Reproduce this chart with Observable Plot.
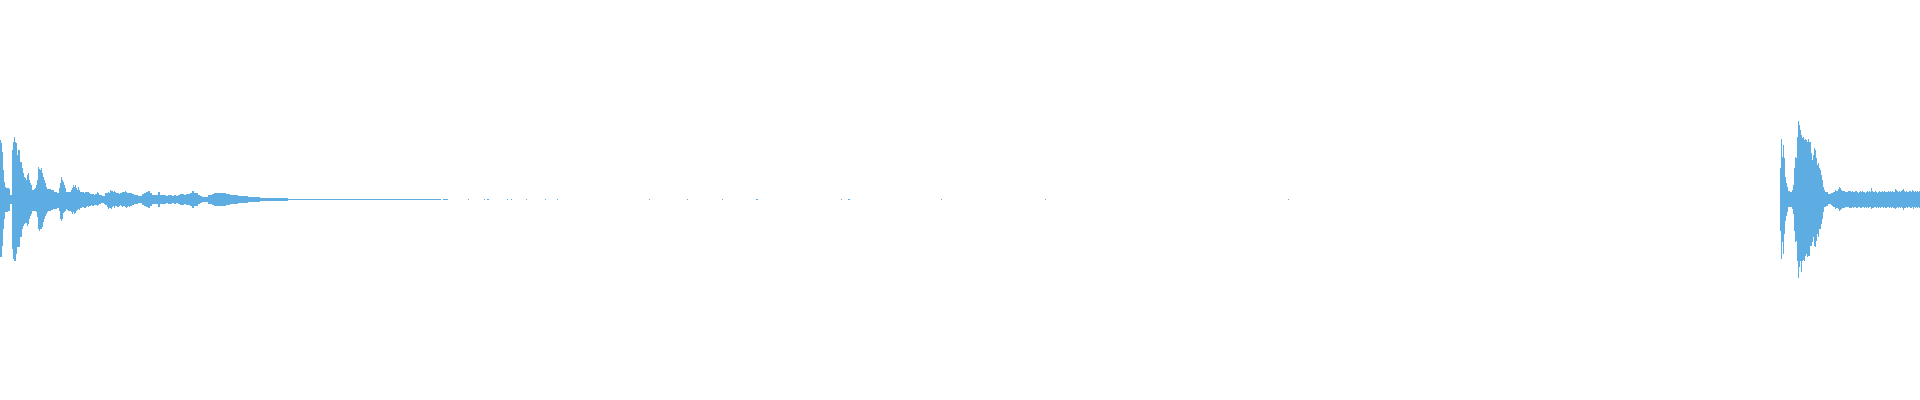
<!DOCTYPE html>
<html>
<head>
<meta charset="utf-8">
<script src="https://cdn.jsdelivr.net/npm/d3@7"></script>
<script src="https://cdn.jsdelivr.net/npm/@observablehq/plot@0.6"></script>
<style>
  html, body { margin: 0; padding: 0; background: #ffffff; }
  #chart svg { display: block; }
</style>
</head>
<body>
<div id="chart"></div>
<script>
// Waveform peaks per column (amplitude in 1/200 of full scale)
const hit1Start = 0;
const hit1Hi = [60,57,48,30,18,13,12,12,12,11, 5,5,50,58,63,58,57,45,50,50,
  38,38,32,27,23,22,20,25,27,20, 17,15,10,10,11,12,15,20,33,31,
  30,32,27,23,20,17,13,11,11,11, 11,10,10,10,8,8,8,7,7,12,
  17,23,20,18,15,12,8,8,8,8, 8,10,12,15,13,15,12,10,13,10,
  8,8,8,8,7,8,8,8,8,7, 6,6,6,6,5,6,6,8,7,5,
  5,5,4,4,4,7,7,7,8,7, 10,9,9,8,9,8,7,7,7,6,
  7,7,8,8,8,9,8,7,7,7];
const hit1Lo = [58,58,47,30,20,13,13,13,12,12, 5,5,50,60,62,62,55,48,48,48,
  38,38,30,27,25,24,24,27,25,20, 17,15,12,12,12,12,13,18,30,32,
  30,30,28,23,20,17,15,13,12,12, 12,11,11,10,10,10,10,9,9,12,
  20,22,20,14,13,12,10,11,12,12, 12,13,15,13,15,14,12,11,10,11,
  9,9,8,8,9,9,8,7,8,7, 7,6,7,7,6,6,6,7,6,5,
  5,4,4,4,5,6,6,8,10,9, 9,10,8,7,9,7,7,8,8,7,
  6,7,8,7,7,8,9,8,7,8];

// Decay tail, two columns per value, symmetric envelope
const tailStart = 130;
const tailStep = 2;
const tailPeak = [7,6,4.5,4.5,3.5,3.5,6,7,8,9, 7,4.5,4.5,5,7.5,5,5,4.5,4,5,
  5,4,4.5,4,5,5.5,5.5,5,6,6, 6.5,9,7,6.5,5,4,3,3,3,4.5,
  5,6,6.5,7,6.5,7,6.5,6.5,6,5.5, 5,5,4.5,4.5,4,4,4,3.5,3.5,3,
  3,2.5,2.5,2.5,2.5,2,2,2,2,2, 2,2,2,2,1.5,2,1.5,1.5,1.5,0.8,
  0.8,0.8,0.8,0.8,0.8,0.8,0.8,0.8,0.8,0.8, 0.8,0.8,0.8,0.8,0.8];

// Near-silent floor and isolated blips: [start column, width in columns]
const floorSegment = [320, 116];
const blips = [[436,5],[443,5],[468,1],[484,1],[487,2],[507,1],[511,1],[526,1],
  [545,1],[557,1],[649,1],[687,1],[722,1],[756,2],[841,1],[848,2],[941,1],[1045,1],[1288,1]];
const floorLevel = 0.6;

// Second hit
const hit2Start = 1780;
const hit2Hi = [32,61,43,55,42,23,17,13,9,9, 8,8,10,15,32,43,42,63,79,75,
  70,65,62,63,60,61,60,58,61,58, 58,47,40,45,52,50,42,35,37,32,
  30,25,20,13,10,8,8,8,6,6, 6,7,7,8,8,10,9,9,11,13,
  12,10,9,9,9,8,8,8,9,9,
  9,8,9,8,8,9,9,8,7,8, 9,8,9,8,8,7,8,9,8,9,
  8,12,9,8,8,9,8,7,8,9, 8,8,9,8,9,8,8,8,9,8,
  9,8,9,8,8,10.5,10,9,8,9, 8,9,10,11,9,8,9,8,8,9,
  9,8,10,9,8,9,8,9,8,9];
const hit2Lo = [32,60,43,55,35,22,17,13,8,8, 8,8,10,15,32,43,42,62,79,68,
  62,73,62,61,62,57,55,58,57,57, 47,47,43,38,47,48,42,35,38,30,
  30,25,20,13,8,8,7,7,5,5, 5,6,7,8,8,10,9,9,10,12,
  11,10,9,9,9,8,8,8,8,9,
  9,9,8,9,8,8,9,9,8,8, 9,9,8,8,9,8,9,8,9,8,
  8,10,9,9,8,8,9,8,9,8, 9,8,8,9,8,9,9,8,8,9,
  8,9,8,9,9,10,9,8,9,8, 9,8,9,11,9,9,8,9,8,8,
  9,9,8,10,8,9,8,9,8,9];

const waveColor = "#5DADE2";

// Build bar table
const bars = [];
hit1Hi.forEach((h, i) => bars.push({x1: hit1Start + i, x2: hit1Start + i + 1, y1: -hit1Lo[i], y2: h}));
tailPeak.forEach((a, i) => bars.push({x1: tailStart + i * tailStep, x2: tailStart + (i + 1) * tailStep, y1: -a, y2: a}));
bars.push({x1: floorSegment[0], x2: floorSegment[0] + floorSegment[1], y1: -floorLevel, y2: floorLevel});
blips.forEach(([c, w]) => bars.push({x1: c, x2: c + w, y1: -floorLevel, y2: floorLevel}));
hit2Hi.forEach((h, i) => bars.push({x1: hit2Start + i, x2: hit2Start + i + 1, y1: -hit2Lo[i], y2: h}));

const chart = Plot.plot({
  width: 1920,
  height: 400,
  marginTop: 0,
  marginRight: 0,
  marginLeft: 0,
  marginBottom: 1,
  style: {background: "#ffffff"},
  x: {domain: [0, 1920], axis: null},
  y: {domain: [-200, 200], axis: null},
  marks: [
    Plot.rect(bars, {x1: "x1", x2: "x2", y1: "y1", y2: "y2", fill: waveColor, inset: 0, shapeRendering: "crispEdges"})
  ]
});
document.getElementById("chart").appendChild(chart);
</script>
</body>
</html>
